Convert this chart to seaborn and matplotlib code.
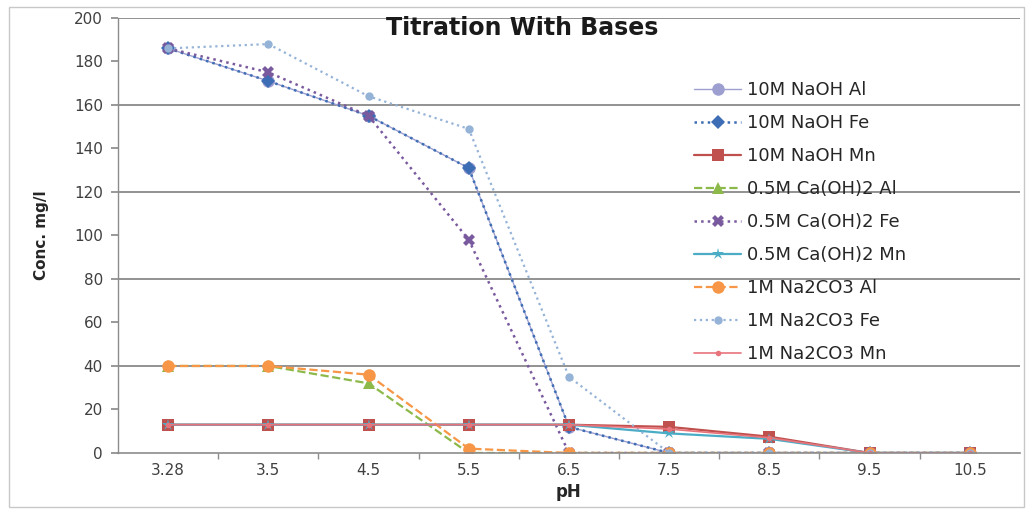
import matplotlib
matplotlib.use("Agg")
import matplotlib.pyplot as plt
import seaborn as sns
import pandas as pd
from matplotlib.patches import Rectangle

# pH steps (categorical axis)
ph_labels = ["3.28", "3.5", "4.5", "5.5", "6.5", "7.5", "8.5", "9.5", "10.5"]

# Concentrations in mg/l per treatment and metal
naoh_al = [186, 171, 155, 131, 12, 0, 0, 0, 0]
naoh_fe = [186, 171, 155, 131, 12, 0, 0, 0, 0]
naoh_mn = [13, 13, 13, 13, 13, 12, 7.5, 0, 0]
caoh_al = [40, 40, 32, 0, 0, 0, 0, 0, 0]
caoh_fe = [186, 175, 155, 98, 0, 0, 0, 0, 0]
caoh_mn = [13, 13, 13, 13, 13, 9, 6.5, 0, 0]
na2co3_al = [40, 40, 36, 2, 0, 0, 0, 0, 0]
na2co3_fe = [186, 188, 164, 149, 35, 0, 0, 0, 0]
na2co3_mn = [13, 13, 13, 13, 13, 11, 7, 0, 0]

series = [
    ("10M NaOH Al", naoh_al, "#9c9fd0", "-", "o", 9, 1.0),
    ("10M NaOH Fe", naoh_fe, "#3d6db4", ":", "D", 7, 1.8),
    ("10M NaOH Mn", naoh_mn, "#c0504d", "-", "s", 8, 1.6),
    ("0.5M Ca(OH)2 Al", caoh_al, "#8db94a", "--", "^", 8, 1.6),
    ("0.5M Ca(OH)2 Fe", caoh_fe, "#7a5a9e", ":", "X", 8, 1.8),
    ("0.5M Ca(OH)2 Mn", caoh_mn, "#4bacc6", "-", "*", 9, 1.6),
    ("1M Na2CO3 Al", na2co3_al, "#f79646", "--", "o", 9, 1.6),
    ("1M Na2CO3 Fe", na2co3_fe, "#95b3d7", ":", "o", 6, 1.6),
    ("1M Na2CO3 Mn", na2co3_mn, "#e8737a", "-", "o", 4, 1.2),
]

sns.set_theme(style="white")
plt.rcParams["font.family"] = ["DejaVu Sans"]

fig = plt.figure(figsize=(10.27, 5.13), dpi=100)
ax = fig.add_axes([0.115, 0.117, 0.878, 0.848])

x_pos = list(range(len(ph_labels)))
for name, vals, color, ls, mk, ms, lw in series:
    df = pd.DataFrame({"pos": x_pos, "conc": vals})
    sns.lineplot(data=df, x="pos", y="conc", ax=ax, color=color, linestyle=ls,
                 marker=mk, markersize=ms, linewidth=lw, label=name,
                 markeredgewidth=0, markeredgecolor=color)

ax.set_xlim(-0.5, len(ph_labels) - 0.5)
ax.set_ylim(0, 200)
ax.set_xticks(x_pos)
ax.set_xticklabels(ph_labels)
ax.set_xticks([i + 0.5 for i in range(len(ph_labels) - 1)], minor=True)
ax.set_yticks(range(0, 201, 20))

# horizontal gridlines every 40
for yv in range(40, 201, 40):
    ax.axhline(yv, color="#7f7f7f", linewidth=1.2, zorder=0)

for s in ["top", "right"]:
    ax.spines[s].set_visible(False)
ax.spines["left"].set_color("#8c8c8c")
ax.spines["bottom"].set_color("#8c8c8c")
ax.spines["left"].set_linewidth(1.0)
ax.spines["bottom"].set_linewidth(1.2)

ax.tick_params(axis="x", which="major", length=0, pad=7, labelsize=11, labelcolor="#404040")
ax.tick_params(axis="x", which="minor", length=4, color="#8c8c8c", direction="out", bottom=True)
ax.tick_params(axis="y", length=5, color="#8c8c8c", direction="out", left=True,
               pad=6, labelsize=11, labelcolor="#404040")

ax.set_xlabel("pH", fontsize=12, fontweight="bold", labelpad=4)
ax.set_ylabel("Conc. mg/l", fontsize=11, fontweight="bold", labelpad=18)

fig.text(0.508, 0.945, "Titration With Bases", ha="center", va="center",
         fontsize=17, fontweight="bold", color="#1a1a1a")

leg = ax.legend(loc="upper left", bbox_to_anchor=(0.676, 0.842), bbox_transform=fig.transFigure,
                frameon=False, fontsize=13, handlelength=2.6, handletextpad=0.3,
                labelspacing=0.83, borderaxespad=0, borderpad=0)
for t in leg.get_texts():
    t.set_color("#262626")

# chart area border
fig.patches.append(Rectangle((0.009, 0.012), 0.988, 0.975, transform=fig.transFigure,
                             fill=False, edgecolor="#c8c8c8", linewidth=1.0))

fig.savefig("out.png", dpi=100)
